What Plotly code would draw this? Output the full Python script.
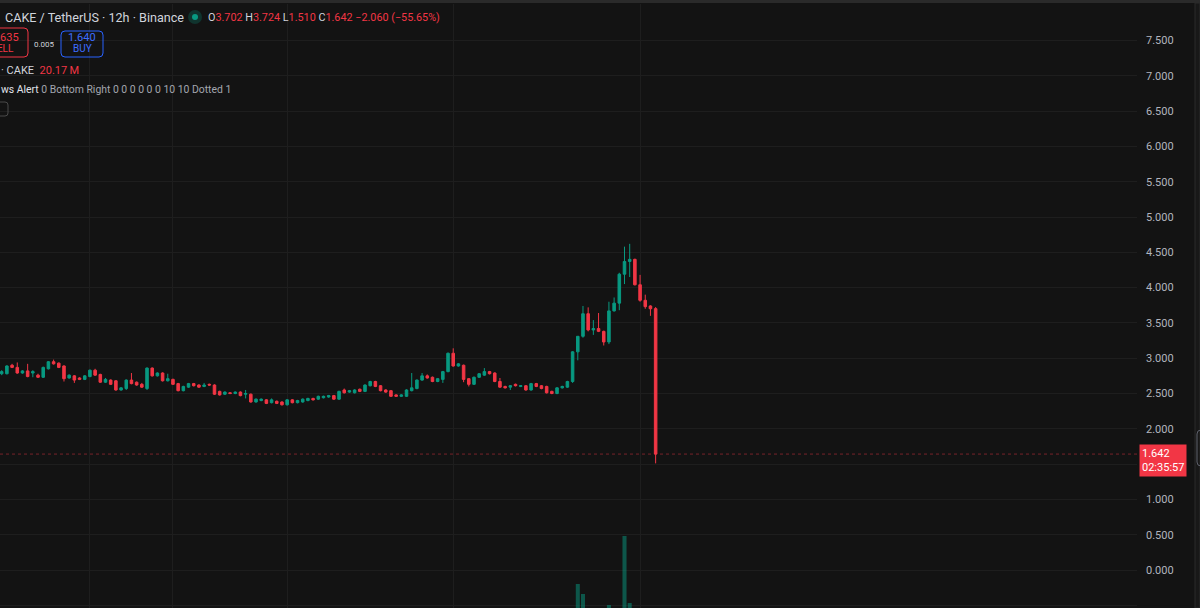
import plotly.graph_objects as go

# ---------------- data ----------------
opens = [2.78, 2.78, 2.90, 2.87, 2.79, 2.82, 2.79, 2.76, 2.73, 2.85,
         2.95, 2.93, 2.89, 2.72, 2.75, 2.72, 2.70, 2.74, 2.83, 2.77,
         2.66, 2.69, 2.68, 2.55, 2.57, 2.69, 2.66, 2.63, 2.57, 2.86,
         2.75, 2.79, 2.68, 2.70, 2.64, 2.54, 2.59, 2.64, 2.62, 2.60,
         2.63, 2.62, 2.53, 2.49, 2.51, 2.50, 2.52, 2.49, 2.49, 2.38,
         2.40, 2.41, 2.37, 2.39, 2.38, 2.34, 2.41, 2.37, 2.38, 2.40,
         2.43, 2.42, 2.44, 2.45, 2.47, 2.42, 2.55, 2.52, 2.51, 2.56,
         2.53, 2.61, 2.67, 2.61, 2.55, 2.54, 2.48, 2.46, 2.46, 2.54,
         2.57, 2.69, 2.75, 2.73, 2.67, 2.70, 2.81, 3.07, 2.89, 2.90,
         2.71, 2.63, 2.73, 2.76, 2.81, 2.79, 2.67, 2.60, 2.59, 2.63,
         2.60, 2.61, 2.55, 2.64, 2.61, 2.60, 2.53, 2.50, 2.58, 2.59,
         2.67, 3.09, 3.31, 3.63, 3.40, 3.42, 3.38, 3.23, 3.67, 3.78,
         4.19, 4.37, 4.40, 4.04, 3.82, 3.74, 3.702]
highs = [2.83, 2.90, 2.92, 2.94, 2.83, 2.92, 2.83, 2.78, 2.88, 2.96,
         2.98, 2.94, 2.90, 2.77, 2.76, 2.73, 2.76, 2.84, 2.85, 2.78,
         2.72, 2.70, 2.69, 2.59, 2.70, 2.79, 2.67, 2.65, 2.87, 2.87,
         2.80, 2.80, 2.78, 2.71, 2.65, 2.61, 2.65, 2.65, 2.63, 2.65,
         2.64, 2.63, 2.54, 2.53, 2.52, 2.53, 2.53, 2.55, 2.50, 2.43,
         2.43, 2.42, 2.43, 2.40, 2.39, 2.42, 2.42, 2.41, 2.43, 2.44,
         2.44, 2.47, 2.47, 2.48, 2.48, 2.54, 2.57, 2.55, 2.56, 2.57,
         2.63, 2.68, 2.68, 2.62, 2.56, 2.55, 2.49, 2.49, 2.56, 2.79,
         2.70, 2.79, 2.77, 2.74, 2.72, 2.82, 3.08, 3.14, 2.93, 2.91,
         2.72, 2.74, 2.79, 2.86, 2.82, 2.80, 2.72, 2.61, 2.62, 2.64,
         2.62, 2.62, 2.65, 2.65, 2.62, 2.61, 2.54, 2.59, 2.61, 2.68,
         3.10, 3.31, 3.74, 3.72, 3.54, 3.64, 3.39, 3.80, 3.86, 4.21,
         4.58, 4.62, 4.41, 4.18, 3.90, 3.75, 3.724]
lows = [2.76, 2.77, 2.86, 2.78, 2.78, 2.73, 2.73, 2.72, 2.72, 2.84,
        2.91, 2.86, 2.67, 2.71, 2.65, 2.69, 2.69, 2.73, 2.75, 2.65,
        2.65, 2.62, 2.54, 2.54, 2.55, 2.63, 2.61, 2.58, 2.55, 2.74,
        2.74, 2.67, 2.67, 2.62, 2.53, 2.53, 2.58, 2.60, 2.58, 2.59,
        2.61, 2.48, 2.47, 2.48, 2.49, 2.49, 2.46, 2.43, 2.37, 2.37,
        2.39, 2.35, 2.36, 2.35, 2.33, 2.33, 2.36, 2.36, 2.37, 2.39,
        2.40, 2.41, 2.43, 2.44, 2.41, 2.41, 2.50, 2.51, 2.50, 2.52,
        2.52, 2.60, 2.59, 2.53, 2.51, 2.45, 2.45, 2.45, 2.45, 2.53,
        2.56, 2.68, 2.71, 2.66, 2.66, 2.65, 2.80, 2.88, 2.88, 2.66,
        2.60, 2.62, 2.72, 2.75, 2.77, 2.66, 2.58, 2.57, 2.55, 2.60,
        2.59, 2.54, 2.54, 2.59, 2.56, 2.50, 2.49, 2.49, 2.57, 2.58,
        2.65, 2.97, 3.29, 3.38, 3.33, 3.37, 3.18, 3.20, 3.66, 3.68,
        4.05, 4.15, 4.03, 3.80, 3.70, 3.60, 1.510]
closes = [2.81, 2.89, 2.87, 2.79, 2.82, 2.74, 2.81, 2.73, 2.87, 2.95,
          2.92, 2.87, 2.71, 2.76, 2.69, 2.70, 2.75, 2.83, 2.76, 2.66,
          2.70, 2.63, 2.55, 2.58, 2.69, 2.64, 2.62, 2.59, 2.86, 2.75,
          2.79, 2.68, 2.71, 2.63, 2.54, 2.60, 2.64, 2.61, 2.59, 2.62,
          2.62, 2.49, 2.48, 2.52, 2.50, 2.52, 2.47, 2.50, 2.38, 2.42,
          2.42, 2.36, 2.41, 2.36, 2.34, 2.41, 2.37, 2.40, 2.42, 2.43,
          2.41, 2.46, 2.46, 2.47, 2.42, 2.53, 2.51, 2.54, 2.55, 2.53,
          2.62, 2.67, 2.60, 2.54, 2.52, 2.46, 2.46, 2.48, 2.55, 2.58,
          2.69, 2.75, 2.72, 2.67, 2.71, 2.81, 3.07, 2.89, 2.92, 2.70,
          2.63, 2.73, 2.78, 2.81, 2.78, 2.67, 2.59, 2.58, 2.61, 2.61,
          2.61, 2.55, 2.64, 2.60, 2.57, 2.51, 2.50, 2.58, 2.60, 2.67,
          3.09, 3.31, 3.63, 3.40, 3.42, 3.38, 3.23, 3.67, 3.78, 4.19,
          4.37, 4.40, 4.04, 3.82, 3.73, 3.70, 1.642]
volumes_m = [4.1, 5.3, 3.2, 4.6, 2.9, 5.0, 3.4, 2.8, 5.6, 6.2,
             3.5, 3.9, 7.1, 3.0, 4.4, 2.6, 3.1, 4.8, 3.7, 5.2,
             3.3, 3.6, 6.0, 3.2, 5.1, 4.5, 3.0, 3.4, 8.2, 5.0,
             3.1, 4.7, 3.9, 3.8, 5.5, 3.6, 3.4, 2.7, 2.9, 3.1,
             2.5, 5.8, 3.9, 2.8, 2.2, 2.4, 3.6, 3.2, 5.9, 3.3,
             2.6, 3.8, 3.0, 2.9, 3.7, 4.2, 3.1, 2.7, 3.0, 2.8,
             2.5, 3.4, 2.6, 2.9, 3.3, 5.4, 3.6, 2.7, 3.2, 2.9,
             5.0, 4.6, 4.1, 4.4, 3.0, 4.2, 2.6, 2.4, 4.8, 6.9,
             6.1, 5.2, 3.5, 3.8, 3.1, 6.4, 14.8, 13.5, 5.6, 9.7,
             6.3, 5.9, 4.7, 5.0, 3.9, 5.5, 5.8, 3.2, 3.4, 2.9,
             2.7, 3.9, 4.5, 3.6, 3.3, 4.9, 3.2, 4.1, 3.0, 4.6,
             19.2, 33.0, 28.0, 17.5, 12.4, 13.8, 15.1, 22.5, 16.3, 19.8,
             57.0, 23.5, 18.6, 15.9, 10.8, 9.4, 20.17]
bar_index = list(range(len(closes)))
price_ticks = [-0.5, 0.0, 0.5, 1.0, 1.5, 2.0, 2.5, 3.0, 3.5, 4.0, 4.5, 5.0, 5.5, 6.0, 6.5, 7.0, 7.5]
last_price = closes[-1]
countdown = "02:35:57"
# the 1.500 label is hidden behind the last-price tag, as in the original
price_tick_text = ["" if abs(v - 1.5) < 1e-9 else f"{v:.3f}" for v in price_ticks]

# ---------------- style / layout helpers ----------------
W, H = 1200, 608
ML, MR, MT, MB = 0, 63, 4, 0
PW, PH = W - ML - MR, H - MT - MB
BG = "#131313"
GRID = "#1e1e1e"
UP = "#089981"
DOWN = "#f23645"
TXT = "#d1d4dc"
AXT = "#b2b5be"
FONT = "Roboto, 'Noto Sans', sans-serif"


def px(x):
    return (x - ML) / PW


def py(y):
    return (H - MB - y) / PH


def rrect(x0, y0, x1, y1, r):
    a0, a1 = px(x0), px(x1)
    b0, b1 = py(y0), py(y1)
    rx, ry = r / PW, r / PH
    return (f"M{a0+rx},{b0} L{a1-rx},{b0} Q{a1},{b0} {a1},{b0-ry} "
            f"L{a1},{b1+ry} Q{a1},{b1} {a1-rx},{b1} L{a0+rx},{b1} "
            f"Q{a0},{b1} {a0},{b1+ry} L{a0},{b0-ry} Q{a0},{b0} {a0+rx},{b0} Z")


vol_colors = ["rgba(8,153,129,0.5)" if c >= o else "rgba(242,54,69,0.5)" for o, c in zip(opens, closes)]

fig = go.Figure()
fig.add_trace(go.Bar(x=bar_index, y=volumes_m, marker_color=vol_colors, marker_line_width=0,
                     width=0.78, yaxis="y2", hoverinfo="skip", showlegend=False))
fig.add_trace(go.Candlestick(
    x=bar_index, open=opens, high=highs, low=lows, close=closes,
    increasing=dict(line=dict(color=UP, width=1), fillcolor=UP),
    decreasing=dict(line=dict(color=DOWN, width=1), fillcolor=DOWN),
    whiskerwidth=0, showlegend=False))

# bar pixel mapping: bar i centre at 1.7 + 5.19*i px
x0_val = (0 - 1.7) / 5.19
x1_val = (PW - 1.7) / 5.19
y_top = (570 - MT) / 70.6
y_bot = (570 - H) / 70.6

grid_x = [17, 33, 55, 87, 123]

shapes = []
shapes.append(dict(type="line", xref="paper", yref="y", x0=0, x1=1, y0=last_price, y1=last_price,
                   line=dict(color="rgba(242,54,69,0.45)", width=1, dash="dot"), layer="below"))
shapes.append(dict(type="rect", xref="paper", yref="paper", x0=px(0), x1=px(W), y0=py(3), y1=py(0),
                   fillcolor="#2a2a2a", line_width=0))
shapes.append(dict(type="rect", xref="paper", yref="paper", x0=px(1195), x1=px(W), y0=py(H), y1=py(3),
                   fillcolor="#181818", line=dict(color="#2a2a2a", width=1)))
shapes.append(dict(type="path", xref="paper", yref="paper", path=rrect(1197, 430, 1208, 466, 4),
                   line=dict(color="#5d606b", width=1)))
shapes.append(dict(type="path", xref="paper", yref="paper", path=rrect(-8, 28, 28, 57, 4),
                   line=dict(color=DOWN, width=1)))
shapes.append(dict(type="path", xref="paper", yref="paper", path=rrect(61, 31, 103, 57, 4),
                   line=dict(color="#2962ff", width=1)))
shapes.append(dict(type="path", xref="paper", yref="paper", path=rrect(-6, 102, 8, 116, 3),
                   line=dict(color="#4a4a4a", width=1)))
shapes.append(dict(type="circle", xref="paper", yref="paper", x0=px(188), x1=px(202), y0=py(24), y1=py(10),
                   fillcolor="rgba(8,153,129,0.25)", line_width=0))
shapes.append(dict(type="circle", xref="paper", yref="paper", x0=px(192), x1=px(198), y0=py(20), y1=py(14),
                   fillcolor=UP, line_width=0))


def ann(x, y, text, size=12, color=TXT, anchor="left", **kw):
    return dict(x=px(x), y=py(y), xref="paper", yref="paper", text=text, showarrow=False,
                xanchor=anchor, yanchor="middle", font=dict(family=FONT, size=size, color=color), **kw)


def span(v, c):
    return f"<span style='color:{c}'>{v}</span>"


annotations = [
    ann(3, 17, "CAKE / TetherUS · 12h · Binance", size=12.6),
    ann(206, 17, "O" + span("3.702", DOWN) + " H" + span("3.724", DOWN) + " L" + span("1.510", DOWN)
        + " C" + span("1.642", DOWN) + " " + span("\u22122.060 (\u221255.65%)", DOWN), size=10.8),
    ann(21, 37, "1.635", size=11, color=DOWN, anchor="right"),
    ann(16, 49, "SELL", size=10, color=DOWN, anchor="right"),
    ann(44, 44, "0.005", size=8, color=TXT, anchor="center"),
    ann(82, 38, "1.640", size=11, color="#3d6dff", anchor="center"),
    ann(82, 49, "BUY", size=10, color="#3d6dff", anchor="center"),
    ann(-1, 70, "· CAKE  " + span("20.17\u2009M", DOWN), size=11),
    ann(-1, 89, span("ws Alert", "#e0e3eb") + " 0 Bottom Right 0 0 0 0 0 0 10 10 Dotted 1",
        size=10.4, color="#a3a6af"),
    dict(x=px(1139), y=py(460), xref="paper", yref="paper", showarrow=False, xanchor="left", yanchor="middle",
         text=f"{last_price:.3f}<br>{countdown}", align="left", bgcolor=DOWN, borderpad=2,
         font=dict(family=FONT, size=11, color="#ffffff")),
]

fig.update_layout(
    width=W, height=H,
    margin=dict(l=ML, r=MR, t=MT, b=MB, pad=0),
    paper_bgcolor=BG, plot_bgcolor=BG,
    showlegend=False, boxgap=0.3,
    xaxis=dict(range=[x0_val, x1_val], rangeslider=dict(visible=False), showticklabels=False,
               tickvals=grid_x, showgrid=True, gridcolor=GRID, gridwidth=1, zeroline=False,
               showline=False, ticks=""),
    yaxis=dict(range=[y_bot, y_top], side="right", tickvals=price_ticks, ticktext=price_tick_text,
               showgrid=True, gridcolor=GRID, gridwidth=1, zeroline=False, showline=False, ticks="",
               ticklabelstandoff=8, tickfont=dict(family=FONT, size=11, color=AXT)),
    yaxis2=dict(range=[21, 21 + PH / 2], overlaying="y", visible=False),
    shapes=shapes, annotations=annotations,
)

fig.write_html("out.html", config={"displayModeBar": False},
               post_script="document.body.style.margin='0';document.body.style.background='#131313';")
